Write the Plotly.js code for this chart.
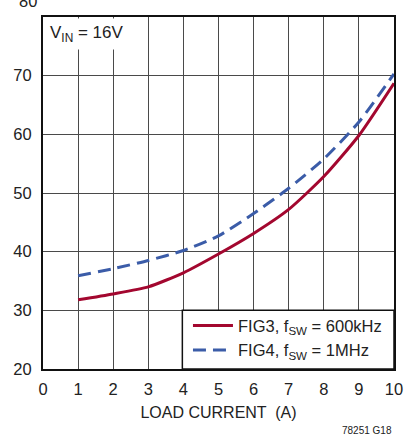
<!DOCTYPE html>
<html>
<head>
<meta charset="utf-8">
<script src="https://cdn.plot.ly/plotly-3.0.1.min.js"></script>
<style>
  html, body { margin: 0; padding: 0; background: #fff; }
  #chart { width: 406px; height: 436px; }
</style>
</head>
<body>
<div id="chart"></div>
<script>
// Load current (A)
const loadCurrent = [1, 2, 3, 4, 5, 6, 7, 8, 9, 10];
// Curve values at each load point
const fig3_600kHz = [31.8, 32.8, 34.0, 36.4, 39.6, 43.1, 47.2, 52.8, 59.8, 68.7];
const fig4_1MHz   = [35.9, 37.1, 38.5, 40.2, 42.7, 46.5, 50.8, 55.8, 62.1, 70.3];

const xTicks = [0, 1, 2, 3, 4, 5, 6, 7, 8, 9, 10];
const yTicks = [20, 30, 40, 50, 60, 70, 80];
const yTickText = ['20', '30', '40', '50', '60', '70', ''];

const FONT = '"Liberation Sans Narrow", "Arial Narrow", "Liberation Sans", Arial, sans-serif';
const RED = '#a3072f';
const BLUE = '#3b5ca8';

const traces = [
  {
    x: loadCurrent, y: fig3_600kHz,
    type: 'scatter', mode: 'lines',
    name: 'FIG3, f<sub>SW</sub> = 600kHz',
    line: { color: RED, width: 3, shape: 'spline', smoothing: 0.6 }
  },
  {
    x: loadCurrent, y: fig4_1MHz,
    type: 'scatter', mode: 'lines',
    name: 'FIG4, f<sub>SW</sub> = 1MHz',
    line: { color: BLUE, width: 3, dash: '13px,7px', shape: 'spline', smoothing: 0.6 }
  }
];

const layout = {
  width: 406, height: 436,
  margin: { l: 43, r: 12, t: 17, b: 67 },
  paper_bgcolor: '#fff', plot_bgcolor: '#fff',
  font: { family: FONT, size: 16, color: '#222' },
  showlegend: true,
  legend: {
    x: 0.413, y: 0.005, xanchor: 'left', yanchor: 'bottom',
    bgcolor: 'rgba(0,0,0,0)', borderwidth: 0,
    font: { family: FONT, size: 16.5, color: '#222' },
    tracegroupgap: 0, itemwidth: 40
  },
  xaxis: {
    range: [0, 10], tickvals: xTicks, ticktext: xTicks.map(String),
    showgrid: true, gridcolor: '#4a4a4a', gridwidth: 1,
    showline: true, linecolor: '#111', linewidth: 2, mirror: true,
    zeroline: false, ticks: '', ticklabelstandoff: 4,
    title: { text: 'LOAD CURRENT  (A)', font: { family: FONT, size: 16, color: '#222' }, standoff: 10 },
    tickfont: { family: FONT, size: 16.5, color: '#222' }
  },
  yaxis: {
    range: [20, 80], tickvals: yTicks, ticktext: yTickText,
    showgrid: true, gridcolor: '#4a4a4a', gridwidth: 1,
    showline: true, linecolor: '#111', linewidth: 2, mirror: true,
    zeroline: false, ticks: '', ticklabelstandoff: 6,
    tickfont: { family: FONT, size: 16.5, color: '#222' }
  },
  shapes: [
    {
      type: 'rect', xref: 'x', yref: 'y', x0: 3.97, x1: 10, y0: 20, y1: 30,
      fillcolor: '#fff', line: { color: '#111', width: 1.5 }, layer: 'above'
    }
  ],
  annotations: [
    {
      xref: 'paper', yref: 'paper', x: 0, y: 1, xanchor: 'left', yanchor: 'top',
      text: 'V<sub>IN</sub> = 16V', showarrow: false,
      bgcolor: '#fff', borderpad: 4, xshift: 2, yshift: -1,
      font: { family: FONT, size: 17, color: '#222' }
    },
    {
      xref: 'paper', yref: 'paper', x: 0, y: 1, xanchor: 'right', yanchor: 'bottom',
      text: '80', showarrow: false, xshift: -4, yshift: 5,
      font: { family: FONT, size: 16.5, color: '#222' }
    },
    {
      xref: 'paper', yref: 'paper', x: 1, y: 0, xanchor: 'right', yanchor: 'top',
      text: '78251 G18', showarrow: false, yshift: -54,
      font: { family: FONT, size: 10, color: '#222' }
    }
  ]
};

Plotly.newPlot('chart', traces, layout, { displayModeBar: false, staticPlot: true });
</script>
</body>
</html>
